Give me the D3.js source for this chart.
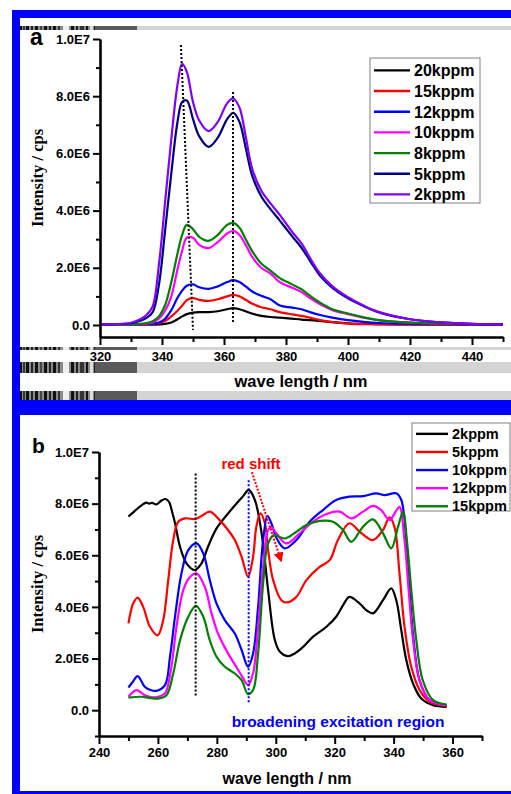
<!DOCTYPE html>
<meta charset="utf-8">
<style>
body { margin: 0; background: #fff; }
svg text { font-family: Arial, "Liberation Sans", sans-serif; font-weight: bold; }
.ytitle { font-family: "Liberation Serif", "Times New Roman", serif !important; }
</style>
<body>
<script src="https://d3js.org/d3.v7.min.js"></script>
<script>

// ---------- panel a : emission spectra (values in 1E6 cps) ----------
var waveA = [320, 325, 330, 333, 335, 337, 339, 341, 343, 345, 346.5, 348, 350, 352, 355, 358, 361, 363,
             365, 367, 369, 372, 375, 378, 382, 385, 388, 391, 395, 400, 405, 410, 420, 430, 440, 450];
var a20k = [0.01, 0.01, 0.01, 0.01, 0.01, 0.01, 0.02, 0.04, 0.09, 0.2, 0.3, 0.38, 0.43, 0.45, 0.45, 0.48, 0.55, 0.59,
            0.55, 0.48, 0.4, 0.32, 0.28, 0.26, 0.22, 0.19, 0.17, 0.14, 0.1, 0.06, 0.04, 0.03, 0.02, 0.01, 0.01, 0.01];
var a15k = [0.01, 0.01, 0.01, 0.01, 0.02, 0.04, 0.07, 0.14, 0.3, 0.5, 0.68, 0.87, 0.94, 0.88, 0.84, 0.9, 1.0, 1.05,
            1.0, 0.88, 0.75, 0.62, 0.55, 0.45, 0.37, 0.32, 0.25, 0.17, 0.1, 0.05, 0.03, 0.02, 0.01, 0.01, 0.01, 0.01];
var a12k = [0.01, 0.01, 0.01, 0.02, 0.03, 0.05, 0.09, 0.22, 0.52, 0.95, 1.2, 1.37, 1.42, 1.32, 1.26, 1.35, 1.5, 1.57,
            1.5, 1.35, 1.18, 1.02, 0.9, 0.68, 0.61, 0.55, 0.44, 0.35, 0.26, 0.17, 0.11, 0.07, 0.04, 0.03, 0.02, 0.02];
var a10k = [0.01, 0.01, 0.02, 0.03, 0.05, 0.1, 0.22, 0.5, 1.0, 1.95, 2.6, 3.05, 3.05, 2.8, 2.69, 2.9, 3.2, 3.29,
            3.15, 2.8, 2.4, 2.0, 1.8, 1.5, 1.3, 1.15, 0.92, 0.72, 0.52, 0.38, 0.26, 0.16, 0.08, 0.05, 0.03, 0.02];
var a8k  = [0.01, 0.01, 0.02, 0.04, 0.07, 0.13, 0.3, 0.7, 1.5, 2.5, 3.15, 3.5, 3.35, 3.08, 2.94, 3.15, 3.5, 3.57,
            3.4, 3.0, 2.6, 2.15, 1.9, 1.64, 1.42, 1.25, 1.0, 0.78, 0.55, 0.4, 0.27, 0.17, 0.08, 0.05, 0.03, 0.02];
var a5k  = [0.02, 0.03, 0.06, 0.15, 0.25, 0.45, 1.4, 3.3, 5.3, 7.1, 7.8, 7.85, 7.2, 6.6, 6.23, 6.55, 7.2, 7.42,
            7.1, 6.2, 5.25, 4.5, 4.05, 3.65, 3.1, 2.7, 2.2, 1.72, 1.3, 0.93, 0.66, 0.44, 0.2, 0.09, 0.04, 0.02];
var a2k  = [0.02, 0.03, 0.08, 0.2, 0.35, 0.65, 2.1, 4.3, 6.5, 8.4, 9.13, 8.85, 7.8, 7.15, 6.78, 7.1, 7.75, 7.92,
            7.6, 6.6, 5.5, 4.7, 4.25, 3.85, 3.25, 2.85, 2.3, 1.8, 1.35, 0.97, 0.68, 0.45, 0.2, 0.09, 0.04, 0.02];
var namesA = ["20kppm", "15kppm", "12kppm", "10kppm", "8kppm", "5kppm", "2kppm"];

// ---------- panel b : excitation spectra, [nm, 1E6 cps] ----------
var b2k = [[250,7.5],[251.5,7.65],[253.3,7.83],[255,7.98],[256.1,8.04],[257,8.0],[258,8.03],[259.5,7.97],[261,8.1],
  [262.4,8.18],[263.7,8.08],[265,7.6],[265.8,7.25],[267.5,6.33],[269.7,5.69],[272.5,5.43],[274.8,5.69],[277,6.33],
  [279.9,7.04],[283.8,7.62],[287.2,8.07],[289,8.3],[290.8,8.53],[292.9,8.14],[295.2,6.85],[297.4,4.65],[299.7,2.71],
  [301.5,2.25],[304,2.09],[306.5,2.2],[309.3,2.45],[312.6,2.84],[317.2,3.23],[320.5,3.62],[323,4.1],[325,4.39],
  [328.5,4.13],[331,3.85],[333,3.75],[336.4,4.26],[339.2,4.72],[340.9,4.26],[342.6,3.1],[344.3,1.94],[346.6,1.03],
  [349.4,0.45],[353.4,0.19],[358,0.13]];
var b5k = [[250,3.36],[251.6,4.13],[253.1,4.36],[255,4.0],[257.3,3.23],[259.9,2.9],[261.8,3.49],[263.5,5.04],
  [265.2,6.59],[266.9,7.3],[269.2,7.43],[272.5,7.4],[274.8,7.52],[277.6,7.69],[280.4,7.43],[283.8,6.98],[286.1,6.59],
  [288.4,5.94],[290.6,5.17],[292.3,5.94],[293.4,7.1],[294.8,7.62],[296.3,7.24],[297.4,6.2],[299.1,5.04],[301.9,4.26],
  [303.6,4.17],[307,4.39],[310.4,5.04],[314.9,5.55],[318.3,5.81],[321.1,6.59],[325,7.24],[328.5,6.91],[333,6.59],
  [336.4,6.98],[338.6,7.47],[340.3,7.1],[342,5.3],[343.7,3.23],[346,1.68],[348.8,0.78],[352.2,0.32],[358,0.16]];
var b10k = [[250,0.88],[251.5,1.1],[253.1,1.32],[255.6,0.9],[257.5,0.78],[259.5,0.75],[262.4,0.97],[264.1,2.07],
  [265.8,3.62],[268,5.3],[270.3,6.2],[273.1,6.46],[275.4,6.07],[277.6,5.04],[279.9,4.13],[282.7,3.49],[286.1,2.97],
  [288.4,2.33],[290.6,1.68],[292.3,2.2],[294,4.0],[295.7,6.59],[297.2,7.52],[298.5,7.24],[300.2,6.68],[303,6.27],
  [307,6.59],[311.5,7.3],[316,7.75],[320.5,8.14],[325,8.27],[329.6,8.29],[334.1,8.4],[336.9,8.33],[340.9,8.4],
  [342.6,8.14],[344.3,6.59],[345.4,4.65],[346.8,2.71],[348.8,1.16],[352.2,0.39],[358,0.19]];
var b12k = [[250,0.52],[252.7,0.78],[255.6,0.58],[258,0.5],[260.1,0.52],[262.4,0.65],[264.4,1.55],[266.3,3.23],
  [268.6,4.65],[270.8,5.15],[273.1,5.3],[275.9,4.78],[278.2,3.75],[280.4,2.97],[283.8,2.2],[286.6,1.68],[288.6,1.3],
  [290.6,0.97],[292.3,1.42],[294,3.23],[295.7,5.55],[297.4,6.98],[298.5,7.08],[300.2,6.85],[303.6,6.46],[308.1,6.85],
  [312.6,7.3],[317.7,7.62],[321.7,7.69],[325.6,7.43],[329.6,7.69],[333,7.91],[335.8,7.75],[338.6,7.36],[340.7,7.69],
  [342,7.88],[343.7,6.59],[345.2,4.52],[346.6,2.71],[348.8,1.16],[352.2,0.39],[358,0.19]];
var b15k = [[250,0.49],[254.4,0.52],[257,0.48],[260.1,0.45],[262.9,0.58],[265.2,1.42],[267.5,2.71],[270.3,3.62],
  [272.9,4.04],[275.4,3.62],[277.6,2.71],[279.9,2.07],[282.7,1.68],[286.1,1.42],[288.4,1.16],[290.6,0.62],[292.3,0.78],
  [294,2.2],[295.7,4.91],[297.4,6.46],[299.4,6.78],[303,6.65],[307,6.91],[310.4,7.17],[314.9,7.33],[319.4,7.3],
  [322.8,6.98],[325.6,6.52],[329.6,7.1],[333,7.39],[336.4,6.85],[339.2,6.27],[341.5,7.1],[343.2,7.69],[344.5,6.59],
  [346,4.65],[347.7,2.71],[349.9,1.16],[353.4,0.39],[358,0.22]];
var namesB = ["2kppm", "5kppm", "10kppm", "12kppm", "15kppm"];

// ticks
var yTicks = [0, 2e6, 4e6, 6e6, 8e6, 1e7];
var yTickLabels = ["0.0", "2.0E6", "4.0E6", "6.0E6", "8.0E6", "1.0E7"];
var xTicksA = [320, 340, 360, 380, 400, 420, 440];
var xTicksB = [240, 260, 280, 300, 320, 340, 360];

// ---------- drawing ----------
var svg = d3.select("body").append("svg")
    .attr("width", 511)
    .attr("height", 794);

// blue frame of the figure
function box(x, y, w, h, c) {
  svg.append("rect").attr("x", x).attr("y", y).attr("width", w).attr("height", h).attr("fill", c);
}
box(12, 10, 499, 8, "#0000ff");
box(12, 10, 8, 784, "#0000ff");
box(12, 400, 499, 15, "#0000ff");
box(12, 791, 499, 3, "#0000ff");

// grey scan stripes of panel a
function stripe(y, h) {
  box(20, y, 491, h, "#d4d4d4");
  box(20, y, 117, h, "#8a8a8a");
  [[20,2,"#111"],[23,2,"#333"],[26,3,"#111"],[31,2,"#222"],[35,3,"#111"],[40,2,"#444"],[44,3,"#111"],
   [49,2,"#222"],[53,3,"#111"],[58,2,"#333"],[63,6,"#eee"],[71,3,"#111"],[76,2,"#222"],[80,4,"#333"],
   [86,2,"#111"],[90,3,"#ddd"],[94,1,"#222"],[95,42,"#5a5a5a"]].forEach(function(b) {
    box(b[0], y, b[1], h, b[2]);
  });
}
stripe(26, 4);
stripe(347, 3);
stripe(362, 11);
stripe(391, 9);

var lineW = 2.2;
var tickFont = 13;

function drawAxes(x, y, xMajor, xMinor, yMinor, xPad) {
  var gy = svg.append("g").attr("transform", "translate(" + x.range()[0] + ",0)");
  gy.call(d3.axisLeft(y).tickValues(yMinor).tickSize(4).tickSizeOuter(0).tickFormat(""));
  gy.call(g => g.selectAll("line").attr("stroke-width", 2));
  var gy2 = svg.append("g").attr("transform", "translate(" + x.range()[0] + ",0)")
      .call(d3.axisLeft(y).tickValues(yTicks).tickSize(7).tickSizeOuter(0).tickPadding(3)
        .tickFormat(function(d, i) { return yTickLabels[i]; }));
  gy2.selectAll("line").attr("stroke-width", 2);
  gy2.select(".domain").attr("stroke-width", 2.6);
  gy2.selectAll("text").attr("font-size", tickFont).attr("font-family", "Arial, 'Liberation Sans', sans-serif")
      .attr("font-weight", "bold");

  var yb = y.range()[0];
  var gx = svg.append("g").attr("transform", "translate(0," + yb + ")");
  gx.call(d3.axisBottom(x).tickValues(xMinor).tickSize(5).tickSizeOuter(0).tickFormat(""));
  gx.selectAll("line").attr("stroke-width", 2);
  var gx2 = svg.append("g").attr("transform", "translate(0," + yb + ")")
      .call(d3.axisBottom(x).tickValues(xMajor).tickSize(8).tickSizeOuter(0).tickPadding(xPad)
        .tickFormat(d3.format("d")));
  gx2.selectAll("line").attr("stroke-width", 2);
  gx2.select(".domain").attr("stroke-width", 2.6);
  gx2.selectAll("text").attr("font-size", tickFont).attr("font-family", "Arial, 'Liberation Sans', sans-serif")
      .attr("font-weight", "bold");
}

function legend(x0, y0, w, h, names, color, rowH, lineLen, fs) {
  var g = svg.append("g");
  g.append("rect").attr("x", x0).attr("y", y0).attr("width", w).attr("height", h)
    .attr("fill", "#fff").attr("stroke", "#808080").attr("stroke-width", 1);
  names.forEach(function(n, i) {
    var yy = y0 + rowH * 0.6 + i * rowH;
    g.append("line").attr("x1", x0 + 4).attr("x2", x0 + 4 + lineLen).attr("y1", yy).attr("y2", yy)
      .attr("stroke", color(n)).attr("stroke-width", 2.4);
    g.append("text").attr("x", x0 + 8 + lineLen).attr("y", yy).attr("dy", "0.36em")
      .attr("font-size", fs).text(n);
  });
}

// ===== panel a =====
var xA = d3.scaleLinear().domain([320, 450]).range([100, 503]);
var yA = d3.scaleLinear().domain([-0.42e6, 1e7]).range([337, 39]);
var colorA = d3.scaleOrdinal().domain(namesA)
    .range(["#000000", "#ff0000", "#0000ff", "#ff00ff", "#008000", "#000080", "#8000ff"]);
var seriesA = [a20k, a15k, a12k, a10k, a8k, a5k, a2k];

var lineA = d3.line()
    .x(function(d) { return xA(d[0]); })
    .y(function(d) { return yA(d[1] * 1e6); })
    .curve(d3.curveCatmullRom.alpha(0.5));

seriesA.forEach(function(s, i) {
  var pts = waveA.map(function(w, j) { return [w, s[j]]; });
  svg.append("path").datum(pts).attr("d", lineA)
    .attr("fill", "none").attr("stroke", colorA(namesA[i])).attr("stroke-width", lineW);
});

// peak guide lines
svg.append("line").attr("x1", xA(346.1)).attr("y1", yA(9.79e6)).attr("x2", xA(350)).attr("y2", yA(-0.17e6))
  .attr("stroke", "#000").attr("stroke-width", 2).attr("stroke-dasharray", "2,2");
svg.append("line").attr("x1", xA(362.9)).attr("y1", yA(8.15e6)).attr("x2", xA(362.9)).attr("y2", yA(0.1e6))
  .attr("stroke", "#000").attr("stroke-width", 2).attr("stroke-dasharray", "2,2");

drawAxes(xA, yA, xTicksA, d3.range(330, 451, 20), [1e6, 3e6, 5e6, 7e6, 9e6], 7);

legend(370, 58, 110, 145, namesA, colorA, 20.67, 36, 16);

svg.append("text").attr("x", 30).attr("y", 45).attr("font-size", 23).text("a");
svg.append("text").attr("x", 301).attr("y", 387).attr("text-anchor", "middle").attr("font-size", 16.5)
  .text("wave length / nm");
svg.append("text").attr("class", "ytitle").attr("transform", "translate(43,178) rotate(-90)")
  .attr("text-anchor", "middle").attr("font-size", 16.5).text("Intensity / cps");

// ===== panel b =====
var xB = d3.scaleLinear().domain([240, 370]).range([99, 482]);
var yB = d3.scaleLinear().domain([-1e6, 1e7]).range([736, 452]);
var colorB = d3.scaleOrdinal().domain(namesB)
    .range(["#000000", "#ff0000", "#0000ff", "#ff00ff", "#008000"]);
var seriesB = [b2k, b5k, b10k, b12k, b15k];

var lineB = d3.line()
    .x(function(d) { return xB(d[0]); })
    .y(function(d) { return yB(d[1] * 1e6); })
    .curve(d3.curveCatmullRom.alpha(0.5));

seriesB.forEach(function(s, i) {
  svg.append("path").datum(s).attr("d", lineB)
    .attr("fill", "none").attr("stroke", colorB(namesB[i])).attr("stroke-width", lineW);
});

svg.append("line").attr("x1", xB(272.8)).attr("x2", xB(272.8)).attr("y1", yB(9.17e6)).attr("y2", yB(0.54e6))
  .attr("stroke", "#000").attr("stroke-width", 2).attr("stroke-dasharray", "2,2");
svg.append("line").attr("x1", xB(290.8)).attr("x2", xB(290.8)).attr("y1", yB(8.91e6)).attr("y2", yB(0.3e6))
  .attr("stroke", "#0000ff").attr("stroke-width", 2).attr("stroke-dasharray", "2,2");

// red shift arrow
svg.append("defs").append("marker").attr("id", "arr")
  .attr("viewBox", "0 0 10 10").attr("refX", 9).attr("refY", 5)
  .attr("markerWidth", 5).attr("markerHeight", 5).attr("markerUnits", "strokeWidth")
  .attr("orient", "auto")
  .append("path").attr("d", "M0,0 L10,5 L0,10 z").attr("fill", "#ff0000");
svg.append("line").attr("x1", xB(291.9)).attr("y1", yB(9.22e6)).attr("x2", xB(301.9)).attr("y2", yB(5.76e6))
  .attr("stroke", "#ff0000").attr("stroke-width", 2).attr("stroke-dasharray", "2,1.5")
  .attr("marker-end", "url(#arr)");
svg.append("text").attr("x", 251).attr("y", 469).attr("text-anchor", "middle").attr("font-size", 15)
  .attr("fill", "#ff0000").text("red shift");

drawAxes(xB, yB, xTicksB, d3.range(250, 371, 20), [-1e6, 1e6, 3e6, 5e6, 7e6, 9e6], 4);

legend(412, 423, 98, 88, namesB, colorB, 18.1, 32, 14.5);

svg.append("text").attr("x", 338).attr("y", 727).attr("text-anchor", "middle").attr("font-size", 15.5)
  .attr("fill", "#0000ff").text("broadening excitation region");

svg.append("text").attr("x", 32).attr("y", 453).attr("font-size", 21).text("b");
svg.append("text").attr("x", 287).attr("y", 784).attr("text-anchor", "middle").attr("font-size", 16)
  .text("wave length / nm");
svg.append("text").attr("class", "ytitle").attr("transform", "translate(43,584) rotate(-90)")
  .attr("text-anchor", "middle").attr("font-size", 16.5).text("Intensity / cps");

</script>
</body>
